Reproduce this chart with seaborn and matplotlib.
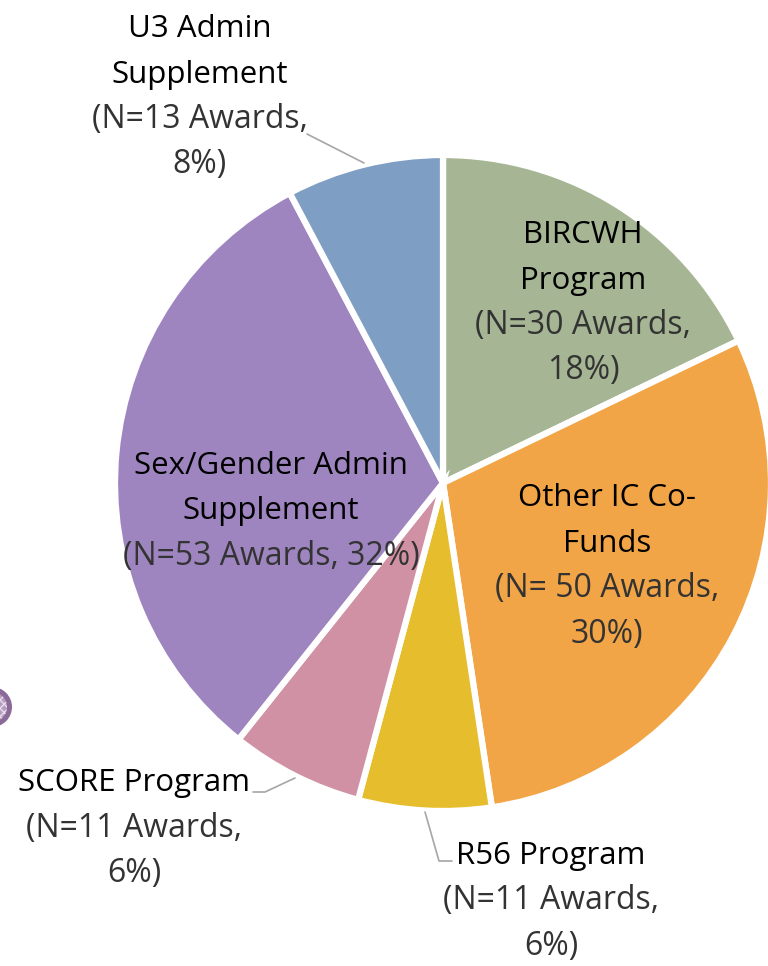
import matplotlib
matplotlib.use("Agg")
import matplotlib.pyplot as plt
import seaborn as sns
from matplotlib.patches import Circle

sns.set_theme(style="white")
plt.rcParams['font.family'] = ['Open Sans', 'DejaVu Sans']

# ---- data ----
categories = ["BIRCWH Program", "Other IC Co-Funds", "R56 Program",
              "SCORE Program", "Sex/Gender Admin Supplement", "U3 Admin Supplement"]
awards = [30, 50, 11, 11, 53, 13]
percents = [18, 30, 6, 6, 32, 8]
colors = sns.color_palette(["#A6B593", "#F2A546", "#E6BD2D", "#D191A4", "#9E85C0", "#7F9EC3"])

# label line layout (name lines, detail lines)
name_lines = [["BIRCWH", "Program"], ["Other IC Co-", "Funds"], ["R56 Program"],
              ["SCORE Program"], ["Sex/Gender Admin", "Supplement"], ["U3 Admin", "Supplement"]]
detail_fmt = [["(N={n} Awards,", "{p}%)"], ["(N= {n} Awards,", "{p}%)"], ["(N={n} Awards,", "{p}%)"],
              ["(N={n} Awards,", "{p}%)"], ["(N={n} Awards, {p}%)"], ["(N={n} Awards,", "{p}%)"]]
label_x = [583, 607, 551, 134, 271, 200]
label_y0 = [243, 506, 864, 791, 474, 37]
line_gap = 45.5

W, H = 768, 966
fig = plt.figure(figsize=(W / 100, H / 100), dpi=100)
ax = fig.add_axes([0, 0, 1, 1])
ax.set_xlim(0, W)
ax.set_ylim(H, 0)
ax.set_aspect('equal')
ax.axis('off')

ax.pie(awards, colors=colors, startangle=-90, counterclock=True,
       center=(443, 483), radius=328,
       wedgeprops=dict(edgecolor="white", linewidth=4.5))
ax.set_xlim(0, W)
ax.set_ylim(H, 0)

for i in range(len(categories)):
    lines = [(t, "black", 22.5) for t in name_lines[i]] + \
            [(f.format(n=awards[i], p=percents[i]), "#333333", 23) for f in detail_fmt[i]]
    for k, (t, c, fs) in enumerate(lines):
        ax.text(label_x[i], label_y0[i] + k * line_gap, t, ha="center", va="baseline",
                fontsize=fs, color=c)

# leader lines
lc = "#A6A6A6"
ax.plot([307, 364], [134, 163], color=lc, lw=1.2)
ax.plot([253, 265, 295], [792, 792, 778], color=lc, lw=1.2)
ax.plot([425, 439, 452], [812, 861, 861], color=lc, lw=1.2)

# decorative partial circle at left edge
ax.add_patch(Circle((-8, 707), 20, facecolor="#8B6A97", edgecolor="none", clip_on=True))
ax.add_patch(Circle((-8, 707), 15, facecolor="#B79CC0", edgecolor="#E8DDEB", hatch="xxxx",
                    linewidth=0, clip_on=True))

fig.savefig("out.png", dpi=100)
